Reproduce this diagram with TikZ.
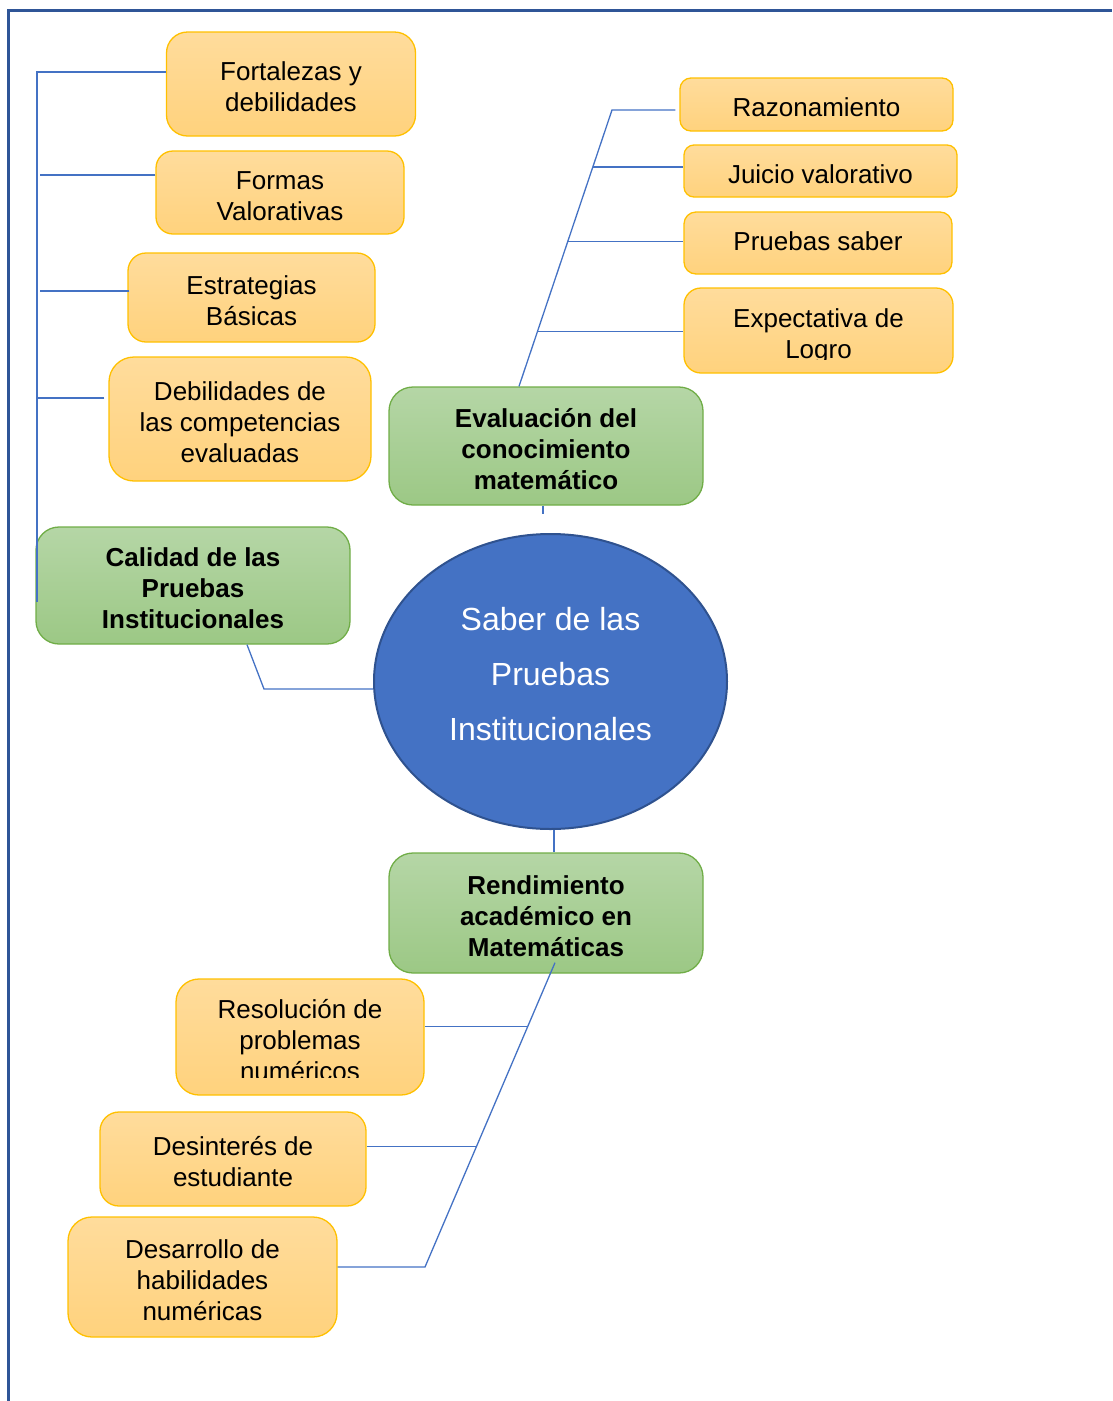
\documentclass[tikz,border=0pt]{standalone}
\usepackage{fontspec}
\setmainfont{Liberation Sans}
\usetikzlibrary{calc,shapes.geometric}

\definecolor{frameblue}{HTML}{2F5597}
\definecolor{linkblue}{HTML}{4472C4}
\definecolor{ytop}{HTML}{FFDC9C}
\definecolor{ybot}{HTML}{FFD27D}
\definecolor{yedge}{HTML}{FFC000}
\definecolor{gtop}{HTML}{B5D6A6}
\definecolor{gbot}{HTML}{9CC885}
\definecolor{gedge}{HTML}{70AD47}
\definecolor{ellfill}{HTML}{4472C4}
\definecolor{elledge}{HTML}{2F528F}

% strut that fixes the height of the first text line of a box
\newcommand{\boxstrut}{\rule{0pt}{30pt}}

\tikzset{
  txt/.style={font=\fontsize{26}{31}\selectfont, align=center, inner sep=0pt,
    execute at begin node={\boxstrut},
    execute at end node={\rule[-6pt]{0pt}{6pt}}},
  ybox/.style={txt, draw=yedge, line width=1.3pt, top color=ytop, bottom color=ybot,
    rounded corners=#1},
  gbox/.style={txt, font=\fontsize{26}{31}\selectfont\bfseries, draw=gedge, line width=1.3pt,
    top color=gtop, bottom color=gbot, rounded corners=#1},
  conn/.style={draw=linkblue, line width=1.3pt},
  hub/.style={ellipse, fill=ellfill, draw=elledge, line width=2pt, inner sep=0pt,
    text=white, font=\fontsize{32}{55}\selectfont, align=center,
    execute at end node={\rule[-22pt]{0pt}{22pt}}},
  frameline/.style={draw=frameblue, line width=3pt}
}

\begin{document}
\begin{tikzpicture}[x=1pt,y=-1pt]
\useasboundingbox (0,0) rectangle (1112,1401);

% page frame
\draw[frameline] (8,1401) -- (8,10) -- (1112,10);

% left branch: quality of the institutional tests
\node[ybox=21pt, minimum width=249pt, minimum height=104pt] (fort) at (291,84) {\boxstrut Fortalezas y\\debilidades};
\node[ybox=17pt, minimum width=248pt, minimum height=83pt] (formas) at (280,192.5) {\boxstrut Formas\\Valorativas};
\node[ybox=18pt, minimum width=247pt, minimum height=89pt] (estr) at (251.5,297.5) {\boxstrut Estrategias\\Básicas};
\node[ybox=25pt, minimum width=262pt, minimum height=124pt] (debil) at (240,419) {\boxstrut Debilidades de\\las competencias\\evaluadas};

% right branch: evaluation of mathematical knowledge
\node[ybox=11pt, minimum width=273pt, minimum height=53pt] (razon) at (816.5,104.5) {Razonamiento};
\node[ybox=10pt, minimum width=273pt, minimum height=52pt] (juicio) at (820.5,171) {Juicio valorativo};
\node[ybox=12pt, minimum width=268pt, minimum height=62pt] (saberp) at (818,243) {\raisebox{5pt}{Pruebas saber}};
\node[ybox=17pt, minimum width=269pt, minimum height=85pt] (expect) at (818.5,330.5) {};
\begin{scope}
  \clip ([yshift=14pt]expect.south west) rectangle (expect.north east);
  \node[txt] (expecttext) at (expect.center) {\boxstrut Expectativa de\\Logro};
\end{scope}

% category boxes
\node[gbox=24pt, minimum width=314pt, minimum height=118pt] (eval) at (546,446) {\boxstrut Evaluación del\\conocimiento\\matemático};
\node[gbox=23pt, minimum width=314pt, minimum height=117pt] (calidad) at (193,585.5) {\boxstrut Calidad de las\\Pruebas\\Institucionales};
\node[gbox=24pt, minimum width=314pt, minimum height=120pt] (rend) at (546,913) {\boxstrut Rendimiento\\académico en\\Matemáticas};

% central topic
\node[hub, minimum width=353pt, minimum height=295pt] (saber) at (550.5,681.5) {\boxstrut Saber de las\\Pruebas\\Institucionales};

% lower branch: academic performance
\node[ybox=23pt, minimum width=248pt, minimum height=116pt] (resol) at (300,1037) {};
\begin{scope}
  \clip ([yshift=18pt]resol.south west) rectangle (resol.north east);
  \node[txt] (resoltext) at (resol.center) {\boxstrut Resolución de\\problemas\\numéricos};
\end{scope}
\node[ybox=19pt, minimum width=266pt, minimum height=94pt] (desint) at (233,1159) {\boxstrut Desinterés de\\estudiante};
\node[ybox=24pt, minimum width=269pt, minimum height=120pt] (desarr) at (202.5,1277) {\boxstrut Desarrollo de\\habilidades\\numéricas};

% connectors of the left spine
\coordinate (spineend) at (37,602);
\draw[conn] ([yshift=12pt]fort.west) -| (spineend);
\coordinate (fb) at ([yshift=17.5pt]formas.west);
\draw[conn] (fb) -- ([xshift=3pt]fb -| spineend);
\coordinate (eb) at ([xshift=2pt,yshift=6.5pt]estr.west);
\draw[conn] (eb) -- ([xshift=3pt]eb -| spineend);
\coordinate (db) at ([xshift=-4pt,yshift=21pt]debil.west);
\draw[conn] (db) -- (db -| spineend);

% quality box to central topic
\coordinate (cbend) at (264,689);
\draw[conn] ([xshift=54pt]calidad.south) -- (cbend) -- (cbend -| saber.west);

% evaluation tree
\coordinate (efoot) at ([xshift=-27pt]eval.north);
\coordinate (etop) at (612,110);
\draw[conn] (efoot) -- (etop) -- ([xshift=-4pt]razon.west |- etop);
\foreach \t/\n in {0.794/juicio, 0.5235/saberp, 0.1986/expect} {
  \coordinate (br) at ($(efoot)!\t!(etop)$);
  \draw[conn] (br) -- (br -| \n.west);
}
\draw[conn] ([xshift=-3pt]eval.south) -- ++(0,8);

% central topic to performance
\draw[conn] ([xshift=3.5pt]saber.south) -- ([xshift=8pt]rend.north);

% performance tree
\coordinate (rtop) at ([xshift=9pt,yshift=11pt]rend.south);
\coordinate (rfoot) at (425,1267);
\draw[conn] (rtop) -- (rfoot) -- (rfoot -| desarr.east);
\foreach \t/\n in {0.21/resol, 0.603/desint} {
  \coordinate (br) at ($(rtop)!\t!(rfoot)$);
  \draw[conn] (br) -- (br -| \n.east);
}
\end{tikzpicture}
\end{document}
